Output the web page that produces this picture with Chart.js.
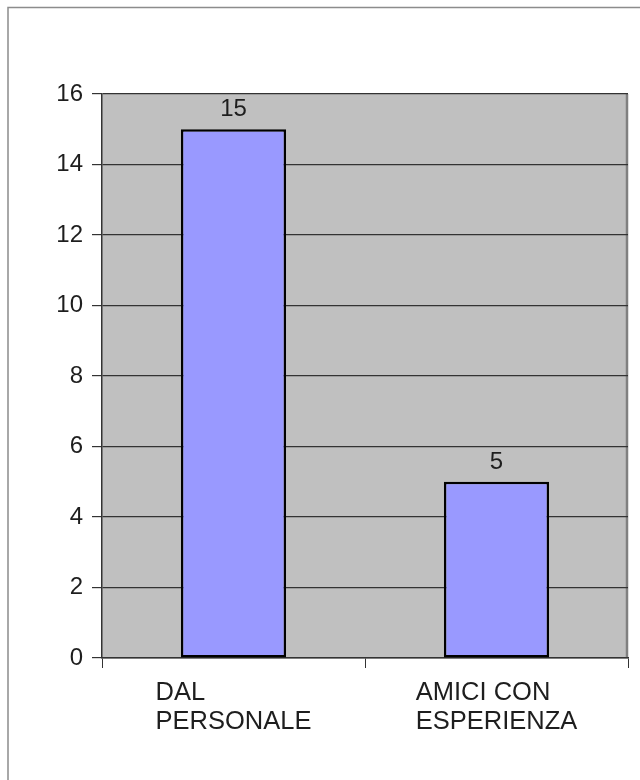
<!DOCTYPE html>
<html lang="it">
<head>
    <meta charset="UTF-8">
    <title>Grafico</title>
    <script src="https://cdn.jsdelivr.net/npm/chart.js"></script>
    <style>
        html, body { margin: 0; padding: 0; background: #fff; }
        #wrap { width: 640px; height: 780px; }
    </style>
</head>
<body>
    <div id="wrap"><canvas id="chart" width="640" height="780"></canvas></div>

    <script>
        // data
        const categories = [['DAL', 'PERSONALE'], ['AMICI CON', 'ESPERIENZA']];
        const values = [15, 5];
        const yMin = 0, yMax = 16, yStep = 2;

        const FAMILY = '"Liberation Sans", Arial, sans-serif';
        const TEXT = '#1e1e1e';

        // frame, plot background and labels
        const decor = {
            id: 'decor',
            beforeDraw(chart) {
                const c = chart.ctx, a = chart.chartArea;
                c.save();
                c.strokeStyle = '#8c8c8c';
                c.lineWidth = 1.5;
                c.beginPath();
                c.moveTo(8, 780); c.lineTo(8, 7.5); c.lineTo(640, 7.5);
                c.stroke();
                c.fillStyle = '#c0c0c0';
                c.fillRect(a.left, a.top, a.right - a.left, a.bottom - a.top);
                c.strokeStyle = '#808080';
                c.lineWidth = 2.5;
                c.beginPath();
                c.moveTo(a.right - 1, a.top); c.lineTo(a.right - 1, a.bottom);
                c.stroke();
                c.restore();
            },
            afterDraw(chart) {
                const c = chart.ctx;
                const x = chart.scales.x;
                c.save();
                c.fillStyle = TEXT;
                c.textBaseline = 'alphabetic';
                // category labels: block centred, lines left aligned
                c.font = '25.5px ' + FAMILY;
                categories.forEach((lines, i) => {
                    const cx = x.getPixelForValue(i);
                    const w = Math.max(...lines.map(l => c.measureText(l).width));
                    c.textAlign = 'left';
                    lines.forEach((l, j) => c.fillText(l, cx - w / 2, 700 + j * 29));
                });
                // values above bars
                c.font = '24px ' + FAMILY;
                c.textAlign = 'center';
                chart.getDatasetMeta(0).data.forEach((bar, i) => {
                    c.fillText(String(values[i]), bar.x, bar.y - 13);
                });
                c.restore();
            }
        };

        new Chart(document.getElementById('chart'), {
            type: 'bar',
            data: {
                labels: categories,
                datasets: [{
                    data: values,
                    backgroundColor: '#9999ff',
                    borderColor: '#000',
                    borderWidth: 2.5,
                    borderSkipped: false,
                    barPercentage: 0.4,
                    categoryPercentage: 1
                }]
            },
            options: {
                responsive: false,
                animation: false,
                layout: { padding: { top: 94, right: 12, left: 0, bottom: 0 } },
                plugins: { legend: { display: false }, tooltip: { enabled: false } },
                scales: {
                    x: {
                        grid: { drawOnChartArea: false, drawTicks: true, tickLength: 10, color: '#333', lineWidth: 1 },
                        border: { color: '#333', width: 1.5 },
                        ticks: { display: false },
                        afterFit(s) { s.height = 122; }
                    },
                    y: {
                        min: yMin, max: yMax,
                        grid: { color: '#333', lineWidth: 1.2, tickLength: 10 },
                        border: { color: '#333', width: 1.5 },
                        ticks: { stepSize: yStep, font: { family: FAMILY, size: 24 }, color: TEXT, padding: 9 },
                        afterFit(s) { s.width = 102; }
                    }
                }
            },
            plugins: [decor]
        });
    </script>
</body>
</html>
